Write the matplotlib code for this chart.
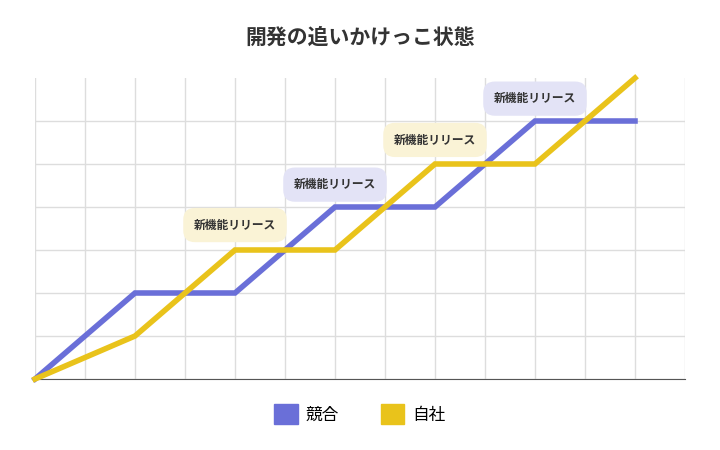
import matplotlib
matplotlib.use("Agg")
import matplotlib.pyplot as plt
from matplotlib.patches import Patch

plt.rcParams['font.family'] = ['Noto Sans CJK JP', 'DejaVu Sans']

x = [0, 2, 4, 6, 8, 10, 12]
competitor = [0, 2, 2, 4, 4, 6, 6]
ours = [0, 1, 3, 3, 5, 5, 7]
label_x = [4, 6, 8, 10]
label_y = [3.58, 4.52, 5.56, 6.52]
label_who = ['ours', 'comp', 'ours', 'comp']
blue = '#6a6fd8'
yellow = '#e9c31b'

fig = plt.figure(figsize=(7.2, 4.5), dpi=100)
ax = fig.add_axes([35/720, 1-379/450, 650/720, 301/450])
ax.set_xlim(0, 13)
ax.set_ylim(0, 7)
ax.set_xticks(range(0, 14))
ax.set_yticks(range(0, 7))
ax.grid(True, color='#dddddd', linewidth=1)
ax.tick_params(length=0, labelbottom=False, labelleft=False)
for s in ['top', 'right', 'left']:
    ax.spines[s].set_visible(False)
ax.spines['bottom'].set_color('#555555')
ax.set_axisbelow(True)

ax.plot(x, competitor, color=blue, lw=4, solid_joinstyle='miter', clip_on=False, zorder=3)
ax.plot(x, ours, color=yellow, lw=4, solid_joinstyle='miter', clip_on=False, zorder=4)

for lx, ly, w in zip(label_x, label_y, label_who):
    fc = '#e3e3f6' if w == 'comp' else '#faf3d6'
    ax.text(lx, ly, '新機能リリース', ha='center', va='center', fontsize=8.5,
            fontweight='bold', color='#333333', zorder=5,
            bbox=dict(boxstyle='round,pad=0.9,rounding_size=1.0', fc=fc, ec='none'))

fig.text(0.5, 1-37/450, '開発の追いかけっこ状態', ha='center', va='center',
         fontsize=15, fontweight='bold', color='#333333')

handles = [Patch(color=blue, label='競合'), Patch(color=yellow, label='自社')]
fig.legend(handles=handles, loc='center', bbox_to_anchor=(0.5, 1-414/450), ncol=2,
           frameon=False, fontsize=12, handlelength=1.4, handleheight=1.4,
           columnspacing=2.5, handletextpad=0.5)

fig.savefig('out.png', dpi=100, facecolor='white')
